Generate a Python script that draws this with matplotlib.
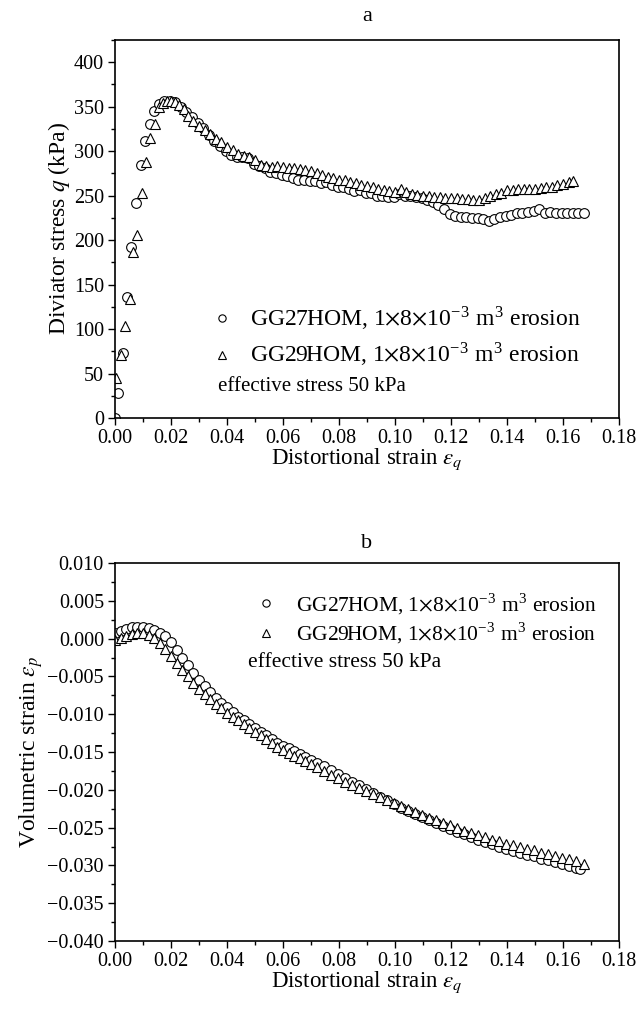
import numpy as np
import matplotlib
matplotlib.use("Agg")
import matplotlib.pyplot as plt
from matplotlib.ticker import MultipleLocator, FormatStrFormatter, FuncFormatter

plt.rcParams["font.family"] = ["Liberation Serif", "DejaVu Serif"]
plt.rcParams["mathtext.fontset"] = "stix"

# panel a: deviator stress vs distortional strain
eq_a27 = [0.000, 0.0012, 0.0028, 0.0042, 0.0058, 0.0075, 0.0092, 0.0108, 0.0124, 0.0140,
          0.0158, 0.0175, 0.0195, 0.0215, 0.0235, 0.0255, 0.0275, 0.0295, 0.0315, 0.0335,
          0.0355, 0.0375, 0.0395, 0.0415, 0.0435, 0.0455, 0.0475, 0.0495, 0.0515, 0.0535,
          0.0555, 0.0575, 0.0595, 0.0615, 0.0635, 0.0655, 0.0675, 0.0695, 0.0715, 0.0735,
          0.0755, 0.0775, 0.0795, 0.0815, 0.0835, 0.0855, 0.0875, 0.0895, 0.0915, 0.0935,
          0.0955, 0.0975, 0.0995, 0.1015, 0.1035, 0.1055, 0.1075, 0.1095, 0.1115, 0.1135,
          0.1155, 0.1175, 0.1195, 0.1215, 0.1235, 0.1255, 0.1275, 0.1295, 0.1315, 0.1335,
          0.1355, 0.1375, 0.1395, 0.1415, 0.1435, 0.1455, 0.1475, 0.1495, 0.1515, 0.1535,
          0.1555, 0.1575, 0.1595, 0.1615, 0.1635, 0.1655, 0.1675]
q_a27 = [0, 28, 73, 136, 192, 242, 285, 312, 331, 345,
         353, 357, 357, 355, 350, 344, 338, 332, 326, 318,
         312, 306, 300, 296, 293, 294, 292, 286, 283, 281,
         277, 275, 273, 272, 270, 268, 268, 266, 266, 264,
         265, 262, 260, 260, 258, 255, 256, 253, 253, 250,
         250, 249, 248, 252, 250, 250, 249, 247, 245, 243,
         240, 235, 229, 227, 226, 226, 225, 225, 224, 222,
         224, 226, 227, 228, 230, 231, 232, 233, 235, 231,
         232, 231, 231, 231, 231, 231, 231]

eq_a29 = [0.0005, 0.0022, 0.0036, 0.0052, 0.0066, 0.0080, 0.0095, 0.0110, 0.0126, 0.0143,
          0.0158, 0.0170, 0.0185, 0.0200, 0.0215, 0.0230, 0.0245, 0.0260, 0.0280, 0.0300,
          0.0320, 0.0340, 0.0360, 0.0380, 0.0400, 0.0420, 0.0440, 0.0460, 0.0480, 0.0500,
          0.0520, 0.0540, 0.0560, 0.0580, 0.0600, 0.0620, 0.0640, 0.0660, 0.0680, 0.0700,
          0.0720, 0.0740, 0.0760, 0.0780, 0.0800, 0.0820, 0.0840, 0.0860, 0.0880, 0.0900,
          0.0920, 0.0940, 0.0960, 0.0980, 0.1000, 0.1020, 0.1040, 0.1060, 0.1080, 0.1100,
          0.1120, 0.1140, 0.1160, 0.1180, 0.1200, 0.1220, 0.1240, 0.1260, 0.1280, 0.1300,
          0.1320, 0.1340, 0.1360, 0.1380, 0.1400, 0.1420, 0.1440, 0.1460, 0.1480, 0.1500,
          0.1520, 0.1540, 0.1560, 0.1580, 0.1600, 0.1620, 0.1635]
q_a29 = [45, 71, 103, 134, 187, 206, 253, 288, 315, 331,
         350, 354, 356, 356, 355, 352, 347, 340, 334, 328,
         324, 319, 314, 310, 305, 301, 297, 295, 293, 290,
         285, 283, 282, 283, 282, 281, 281, 280, 279, 278,
         276, 273, 271, 270, 268, 268, 265, 264, 262, 261,
         260, 258, 256, 255, 254, 258, 254, 252, 251, 250,
         250, 249, 248, 247, 247, 247, 246, 246, 245, 245,
         247, 250, 252, 253, 256, 256, 257, 258, 258, 258,
         259, 260, 260, 262, 263, 265, 266]

# panel b: volumetric strain vs distortional strain
eq_b27 = [0.000, 0.002, 0.004, 0.006, 0.008, 0.010, 0.012, 0.014, 0.016, 0.018,
          0.020, 0.022, 0.024, 0.026, 0.028, 0.030, 0.032, 0.034, 0.036, 0.038,
          0.040, 0.042, 0.044, 0.046, 0.048, 0.050, 0.052, 0.054, 0.056, 0.058,
          0.060, 0.062, 0.064, 0.066, 0.068, 0.070, 0.072, 0.0745, 0.077, 0.0795,
          0.082, 0.0845, 0.087, 0.0895, 0.092, 0.0945, 0.097, 0.0995, 0.102, 0.1045,
          0.107, 0.1095, 0.112, 0.1145, 0.117, 0.1195, 0.122, 0.1245, 0.127, 0.1295,
          0.132, 0.1345, 0.137, 0.1395, 0.142, 0.1445, 0.147, 0.1495, 0.152, 0.1545,
          0.157, 0.1595, 0.162, 0.1645, 0.166]
ep_b27 = [0.0007, 0.0010, 0.0013, 0.0015, 0.0016, 0.0015, 0.0014, 0.0012, 0.0008, 0.0003,
          -0.0005, -0.0015, -0.0025, -0.0035, -0.0045, -0.0055, -0.0063, -0.0071, -0.0078, -0.0085,
          -0.0091, -0.0097, -0.0103, -0.0108, -0.0113, -0.0118, -0.0123, -0.0128, -0.0133, -0.0138,
          -0.0142, -0.0145, -0.0149, -0.0152, -0.0156, -0.0160, -0.0164, -0.0169, -0.0174, -0.0179,
          -0.0184, -0.0189, -0.0194, -0.0199, -0.0204, -0.0209, -0.0214, -0.0219, -0.0224, -0.0228,
          -0.0232, -0.0236, -0.0240, -0.0244, -0.0248, -0.0252, -0.0256, -0.0259, -0.0263, -0.0266,
          -0.0269, -0.0272, -0.0275, -0.0278, -0.0281, -0.0283, -0.0286, -0.0288, -0.0291, -0.0293,
          -0.0296, -0.0298, -0.0301, -0.0303, -0.0305]

eq_b29 = [0.000, 0.002, 0.004, 0.006, 0.008, 0.010, 0.012, 0.014, 0.016, 0.018,
          0.020, 0.022, 0.024, 0.026, 0.028, 0.030, 0.032, 0.034, 0.036, 0.038,
          0.040, 0.042, 0.044, 0.046, 0.048, 0.050, 0.052, 0.054, 0.056, 0.058,
          0.060, 0.062, 0.064, 0.066, 0.068, 0.070, 0.072, 0.0745, 0.077, 0.0795,
          0.082, 0.0845, 0.087, 0.0895, 0.092, 0.0945, 0.097, 0.0995, 0.102, 0.1045,
          0.107, 0.1095, 0.112, 0.1145, 0.117, 0.1195, 0.122, 0.1245, 0.127, 0.1295,
          0.132, 0.1345, 0.137, 0.1395, 0.142, 0.1445, 0.147, 0.1495, 0.152, 0.1545,
          0.157, 0.1595, 0.162, 0.1645, 0.1675]
ep_b29 = [-0.0002, 0.0001, 0.0004, 0.0006, 0.0008, 0.0007, 0.0005, 0.0001, -0.0006, -0.0014,
          -0.0023, -0.0032, -0.0041, -0.0050, -0.0058, -0.0066, -0.0073, -0.0080, -0.0086, -0.0092,
          -0.0098, -0.0103, -0.0108, -0.0113, -0.0118, -0.0123, -0.0128, -0.0133, -0.0138, -0.0143,
          -0.0147, -0.0151, -0.0155, -0.0158, -0.0162, -0.0166, -0.0170, -0.0175, -0.0180, -0.0184,
          -0.0189, -0.0193, -0.0197, -0.0201, -0.0205, -0.0209, -0.0213, -0.0217, -0.0221, -0.0225,
          -0.0229, -0.0233, -0.0237, -0.0240, -0.0244, -0.0247, -0.0251, -0.0254, -0.0257, -0.0260,
          -0.0263, -0.0266, -0.0268, -0.0271, -0.0273, -0.0276, -0.0278, -0.0280, -0.0283, -0.0285,
          -0.0287, -0.0290, -0.0292, -0.0294, -0.0298]

lab27 = r"GG27HOM, 1$\times$8$\times$10$^{\mathregular{-3}}$ m$^{\mathregular{3}}$ erosion"
lab29 = r"GG29HOM, 1$\times$8$\times$10$^{\mathregular{-3}}$ m$^{\mathregular{3}}$ erosion"

fig = plt.figure(figsize=(6.39, 10.16), dpi=100)
ax1 = fig.add_axes([0.18, 0.5886, 0.7887, 0.372])
ax2 = fig.add_axes([0.18, 0.0738, 0.7887, 0.372])

mk = dict(linestyle="none", markerfacecolor="white",
          markeredgecolor="black", markeredgewidth=0.8, markersize=7)

ax1.plot(eq_a27, q_a27, marker="o", label=lab27, **mk)
ax1.plot(eq_a29, q_a29, marker="^", label=lab29, **mk)
ax2.plot(eq_b27, ep_b27, marker="o", label=lab27, **mk)
ax2.plot(eq_b29, ep_b29, marker="^", label=lab29, **mk)

for ax in (ax1, ax2):
    ax.set_xlim(0, 0.18)
    ax.xaxis.set_major_locator(MultipleLocator(0.02))
    ax.xaxis.set_minor_locator(MultipleLocator(0.01))
    ax.xaxis.set_major_formatter(FormatStrFormatter("%.2f"))
    ax.tick_params(which="both", direction="out", top=False, right=False,
                   labelsize=14.5, width=1)
    ax.tick_params(which="major", length=5, pad=3)
    ax.tick_params(which="minor", length=3)
    for s in ax.spines.values():
        s.set_linewidth(1.2)
    ax.set_xlabel(r"Distortional strain $\varepsilon_q$", fontsize=16.5, labelpad=-1)

ax1.set_ylim(0, 425)
ax1.yaxis.set_major_locator(MultipleLocator(50))
ax1.yaxis.set_minor_locator(MultipleLocator(25))
ax1.set_ylabel(r"Diviator stress $q$ (kPa)", fontsize=17, labelpad=1)
ax1.set_title("a", fontsize=16, pad=14)

ax2.set_ylim(-0.04, 0.01)
ax2.yaxis.set_major_locator(MultipleLocator(0.005))
ax2.yaxis.set_minor_locator(MultipleLocator(0.0025))
ax2.yaxis.set_major_formatter(FuncFormatter(
    lambda v, p: ("%.3f" % v).replace("-", "\u2212")))
ax2.set_ylabel(r"Volumetric strain $\varepsilon_p$", fontsize=17, labelpad=2)
ax2.set_title("b", fontsize=16, pad=11)

ax1.legend(loc="upper left", bbox_to_anchor=(0.189, 0.30), frameon=False,
           fontsize=17, handlelength=1.0, handletextpad=0.7, labelspacing=0.35,
           borderpad=0, borderaxespad=0, markerscale=0.75)
ax1.text(0.204, 0.083, "effective stress 50 kPa", transform=ax1.transAxes,
         fontsize=15, va="center")

ax2.legend(loc="upper left", bbox_to_anchor=(0.278, 0.925), frameon=False,
           fontsize=15.5, handlelength=1.0, handletextpad=0.9, labelspacing=0.2,
           borderpad=0, borderaxespad=0, markerscale=0.75)
ax2.text(0.264, 0.738, "effective stress 50 kPa", transform=ax2.transAxes,
         fontsize=15.5, va="center")

fig.savefig("out.png", dpi=100)
